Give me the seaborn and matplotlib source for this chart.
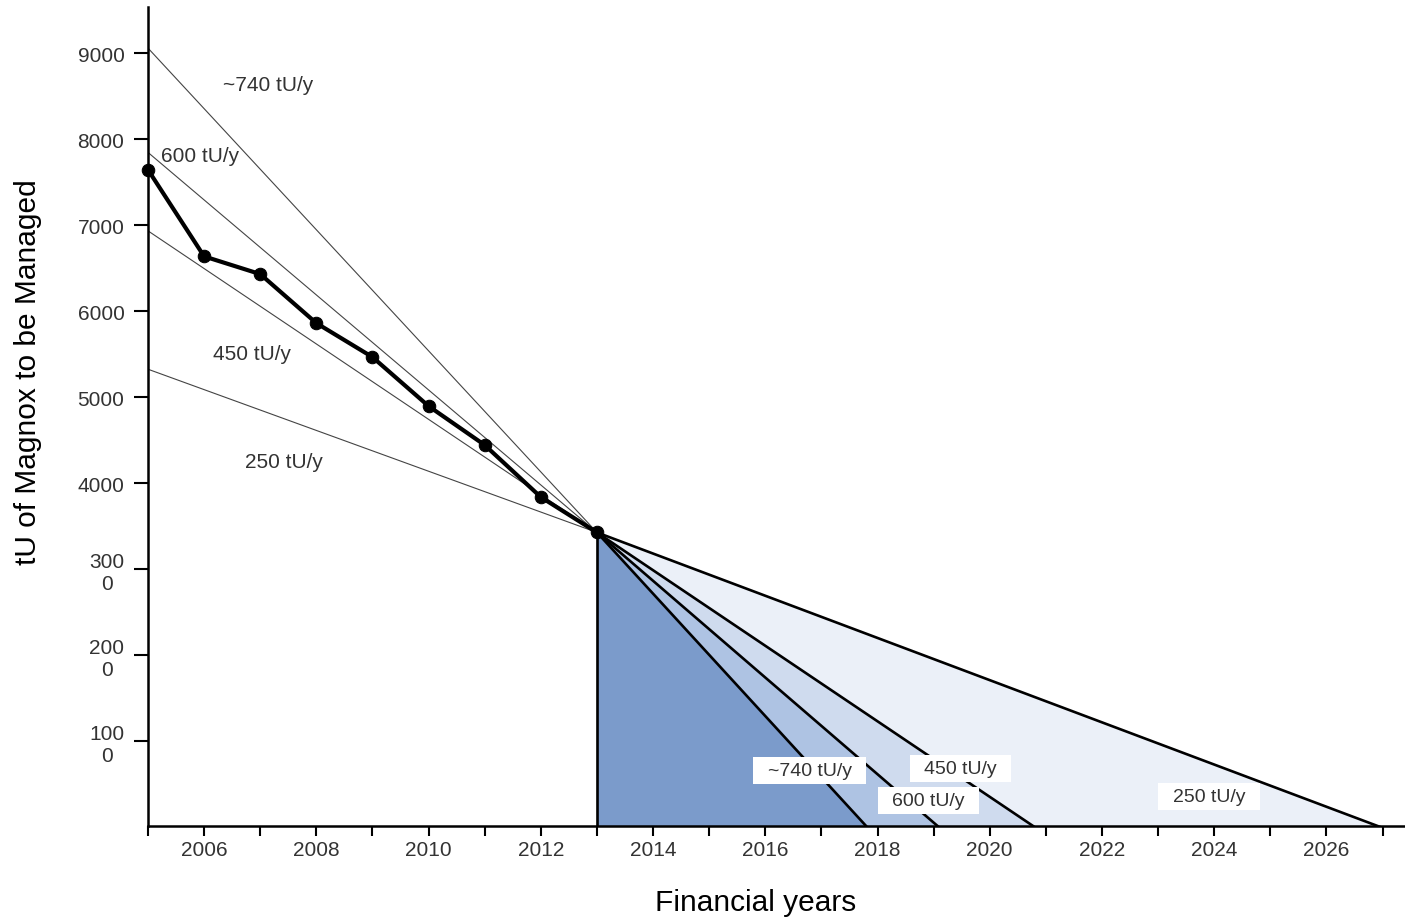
"""Magnox fuel inventory run-down: tU remaining vs financial year with rate fans."""

import matplotlib.pyplot as plt
import pandas as pd
import seaborn as sns

# observed inventory (tU) by financial year
years = [2005, 2006, 2007, 2008, 2009, 2010, 2011, 2012, 2013]
tonnes = [7647, 6640, 6434, 5864, 5469, 4899, 4446, 3841, 3430]

# reprocessing-rate scenarios: back-projected value at 2005 and year the stock hits zero
rate_labels = ["~740 tU/y", "600 tU/y", "450 tU/y", "250 tU/y"]
start_2005 = [9062, 7849, 6937, 5328]
end_years = [2017.82, 2019.10, 2020.81, 2026.98]

ytick_vals = [1000, 2000, 3000, 4000, 5000, 6000, 7000, 8000, 9000]
ytick_text = ["100\n0", "200\n0", "300\n0", "4000", "5000", "6000", "7000", "8000", "9000"]
xtick_vals = list(range(2005, 2028))

fills = ["#7b9bcb", "#aec3e3", "#cfdbee", "#ebf0f8"]
TXT = "#333333"


def main() -> None:
    sns.set_theme(style="white")
    plt.rcParams["font.family"] = ["Liberation Sans", "DejaVu Sans"]

    fig = plt.figure(figsize=(14.05, 9.2), dpi=100)
    ax = fig.add_axes([148 / 1405, 1 - 826.7 / 920, 1 - 148 / 1405, (826.7 - 8) / 920])

    x0, y0 = years[-1], tonnes[-1]

    # shaded fans after 2013
    ax.fill([x0, x0, end_years[0]], [0, y0, 0], color=fills[0], lw=0, zorder=1)
    for i in range(1, len(end_years)):
        ax.fill([x0, end_years[i - 1], end_years[i]], [y0, 0, 0], color=fills[i], lw=0, zorder=1)

    # thick projections to zero and the 2013 divider
    for end in end_years:
        ax.plot([x0, end], [y0, 0], color="black", lw=1.9, zorder=3, solid_capstyle="butt")
    ax.plot([x0, x0], [0, y0], color="black", lw=1.9, zorder=3)

    # thin back-projections to 2005
    for s in start_2005:
        ax.plot([years[0], x0], [s, y0], color="#444444", lw=0.8, zorder=2)

    df = pd.DataFrame({"year": years, "tU": tonnes})
    sns.lineplot(data=df, x="year", y="tU", ax=ax, color="black", lw=3,
                 marker="o", markersize=9, markeredgecolor="black", zorder=5, clip_on=False)

    # rate labels, upper left
    upper_pos = [(2007.14, 8636), (2005.93, 7810), (2006.85, 5508), (2007.42, 4253)]
    for lab, (tx, ty) in zip(rate_labels, upper_pos):
        ax.text(tx, ty, lab, fontsize=15, color=TXT, ha="center", va="center", zorder=6)

    # boxed rate labels, lower right
    box_pos = [(2016.79, 659), (2018.91, 310), (2019.48, 683), (2023.91, 357)]
    for lab, (tx, ty) in zip(rate_labels, box_pos):
        ax.text(tx, ty, lab, fontsize=14, color=TXT, ha="center", va="center", zorder=6,
                bbox=dict(boxstyle="square,pad=0.75", mutation_aspect=0.33,
                          fc="white", ec="none"))

    ax.set_xlim(2005, 2027.4)
    ax.set_ylim(20, 9540)

    ax.set_yticks(ytick_vals)
    ax.set_yticklabels(ytick_text, multialignment="center")
    ax.set_xticks(xtick_vals)
    ax.set_xticklabels([str(y) if y % 2 == 0 else "" for y in xtick_vals])

    sns.despine(ax=ax)
    for side in ("left", "bottom"):
        ax.spines[side].set_linewidth(1.8)
        ax.spines[side].set_color("black")
        ax.spines[side].set_zorder(7)

    ax.tick_params(axis="y", direction="out", length=10, width=1.5, color="black",
                   labelsize=15, labelcolor=TXT, pad=7, left=True)
    ax.tick_params(axis="x", direction="out", length=7, width=1.5, color="black",
                   labelsize=15, labelcolor=TXT, pad=3, bottom=True)

    ax.set_xlabel(None)
    ax.set_ylabel(None)
    fig.text(756 / 1405, 1 - 903 / 920, "Financial years", fontsize=21.5, color="black",
             ha="center", va="center")
    fig.text(28 / 1405, 1 - 372 / 920, "tU of Magnox to be Managed", fontsize=21.5,
             color="black", ha="center", va="center", rotation=90)

    fig.savefig("out.png", dpi=100)
    plt.close(fig)


if __name__ == "__main__":
    main()
